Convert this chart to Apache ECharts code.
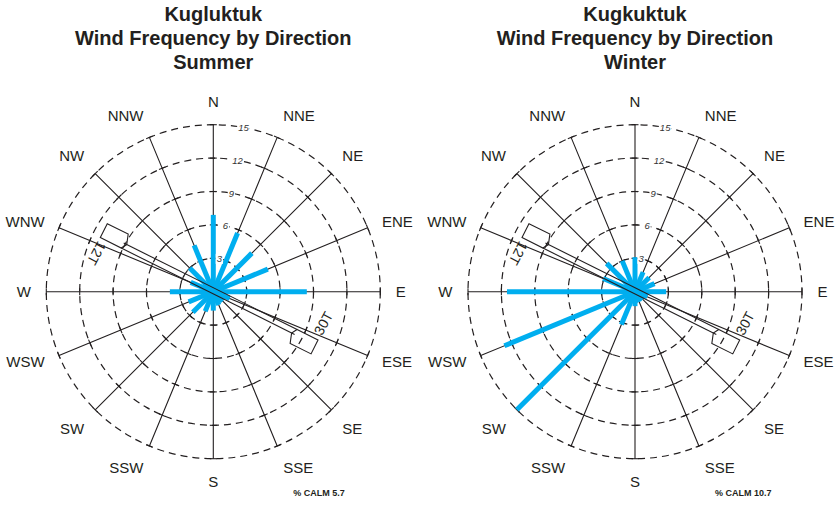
<!DOCTYPE html>
<html><head><meta charset="utf-8">
<script src="https://cdn.jsdelivr.net/npm/echarts@6/dist/echarts.min.js"></script>
<style>html,body{margin:0;padding:0;background:#fff}#c{width:835px;height:506px}</style>
</head><body><div id="c"></div>
<script>
// ---- data ----
const directions = ['N','NNE','NE','ENE','E','ESE','SE','SSE','S','SSW','SW','WSW','W','WNW','NW','NNW'];
const summerValues = [6.9, 5.7, 4.9, 5.3, 8.4, 1.6, 1.2, 1.3, 1.7, 1.9, 2.6, 2.4, 3.9, 2.2, 3.0, 4.5];
const winterValues = [3.1, 1.9, 1.8, 1.9, 2.8, 1.2, 1.0, 1.0, 1.3, 3.2, 15.0, 12.7, 11.5, 3.1, 3.6, 3.0];
const ringTicks = [3, 6, 9, 12, 15];
const titleLines = [
  ['Kugluktuk', 'Wind Frequency by Direction', 'Summer'],
  ['Kugkuktuk', 'Wind Frequency by Direction', 'Winter']
];
const calmLabels = ['% CALM 5.7', '% CALM 10.7'];
const runwayLabels = ['12T', '30T'];

// ---- styling ----
const BLUE = '#00aeef';
const INK = '#231f20';
const FONT = '"Liberation Sans", Arial, Helvetica, sans-serif';
const centers = [[213.3, 291.7], [635, 291.7]];
const R = 167;

const chart = echarts.init(document.getElementById('c'), null, {renderer: 'svg'});

function toRad(a){ return a * Math.PI / 180; }

function barItem(params, api){
  const v = api.value(0), a = api.value(1);
  const p0 = api.coord([0, a]), p1 = api.coord([v, a]);
  return {type: 'line', shape: {x1: p0[0], y1: p0[1], x2: p1[0], y2: p1[1]},
    style: {stroke: BLUE, lineWidth: 5, lineCap: 'butt'}};
}

function tickItem(params, api){
  const r = api.value(0), a = api.value(1);
  const p = api.coord([r, a]);
  const t = toRad(a);
  const px = Math.cos(t), py = Math.sin(t), h = 3.5;
  return {type: 'line', shape: {x1: p[0] - px*h, y1: p[1] - py*h, x2: p[0] + px*h, y2: p[1] + py*h},
    style: {stroke: INK, lineWidth: 1.1}};
}

function dirLabelItem(params, api){
  const a = api.value(1);
  const name = directions[params.dataIndex];
  const c = api.coord([0, 0]);
  const p = api.coord([15, a]);
  const dx = p[0] - c[0], dy = p[1] - c[1];
  const L = Math.hypot(dx, dy);
  const ux = dx / L, uy = dy / L;
  const rr = L + 15.5;
  const align = Math.abs(ux) < 0.3 ? 'center' : (ux > 0 ? 'left' : 'right');
  const valign = Math.abs(uy) < 0.4 ? 'middle' : (uy > 0 ? 'top' : 'bottom');
  return {type: 'text', x: c[0] + ux * rr, y: c[1] + uy * rr,
    style: {text: name, font: '15px ' + FONT, fill: INK, align: align, verticalAlign: valign}};
}

function ringLabelItem(params, api){
  const r = api.value(0), a = api.value(1);
  const p = api.coord([r, a]);
  return {type: 'text', x: p[0], y: p[1],
    style: {text: String(r), font: 'italic 9.5px ' + FONT, fill: '#333', align: 'center', verticalAlign: 'middle',
      backgroundColor: '#fff', padding: [0, 1]}};
}

// runway geometry in data units (decoration)
function runwayItem(params, api){
  const ang = toRad(116.5);
  const d = [Math.sin(ang), Math.cos(ang)];          // along runway toward SE (east, north)
  const n = [Math.cos(ang) , -Math.sin(ang)];         // perpendicular (toward SW on screen)
  const u0 = -0.45, v0 = -0.07;
  const Le = 10.8, Lt = 8.7, hw = 0.25, bw = 1.15;
  function P(u, v){
    const e = (u0 + u) * d[0] + (v0 + v) * n[0];
    const no = (u0 + u) * d[1] + (v0 + v) * n[1];
    const r = Math.hypot(e, no);
    let b = Math.atan2(e, no) * 180 / Math.PI; if (b < 0) b += 360;
    return api.coord([r, b]);
  }
  const st = {stroke: INK, lineWidth: 1.1, fill: null};
  const children = [
    {type: 'polyline', shape: {points: [P(-Lt, -hw), P(Lt, -hw)]}, style: st},
    {type: 'polyline', shape: {points: [P(-Lt, hw), P(Lt, hw)]}, style: st},
    {type: 'polygon', shape: {points: [P(-Le, -bw), P(-Lt, -bw), P(-Lt + 0.3, -hw), P(-Lt, hw), P(-Le, hw)]}, style: st},
    {type: 'polygon', shape: {points: [P(Lt, -hw), P(Le, -hw), P(Le, bw), P(Lt, bw), P(Lt - 0.3, hw)]}, style: st}
  ];
  const lab = [[11.03, 288.2, 242], [10.28, 106, 62]];
  lab.forEach((L, i) => {
    const p = api.coord([L[0], L[1]]);
    children.push({type: 'text', x: p[0], y: p[1], rotation: toRad(L[2]),
      style: {text: runwayLabels[i], font: '14px ' + FONT, fill: INK, align: 'center', verticalAlign: 'middle'}});
  });
  return {type: 'group', children};
}

const polar = centers.map(c => ({center: c, radius: R}));
const angleAxis = centers.map((c, i) => ({
  polarIndex: i, type: 'value', min: 0, max: 360, interval: 22.5, startAngle: 90, clockwise: true,
  axisLine: {show: false}, axisTick: {show: false}, axisLabel: {show: false},
  splitLine: {show: true, lineStyle: {color: INK, width: 1.1}}
}));
const radiusAxis = centers.map((c, i) => ({
  polarIndex: i, type: 'value', min: 0, max: 15, interval: 3,
  axisLine: {show: false}, axisTick: {show: false}, axisLabel: {show: false},
  splitLine: {show: true, lineStyle: {color: INK, width: 1.2, type: [7, 5]}}
}));

const series = [];
[summerValues, winterValues].forEach((vals, i) => {
  const tickData = [];
  directions.forEach((d, k) => ringTicks.forEach(r => tickData.push([r, k * 22.5])));
  series.push({type: 'custom', coordinateSystem: 'polar', polarIndex: i, z: 1, silent: true,
    renderItem: tickItem, data: tickData});
  series.push({type: 'custom', coordinateSystem: 'polar', polarIndex: i, z: 2, silent: true,
    renderItem: barItem, data: vals.map((v, k) => [v, k * 22.5])});
  series.push({type: 'custom', coordinateSystem: 'polar', polarIndex: i, z: 3, silent: true,
    renderItem: runwayItem, data: [[0, 0]]});
  series.push({type: 'custom', coordinateSystem: 'polar', polarIndex: i, z: 4, silent: true,
    renderItem: ringLabelItem, data: ringTicks.map(r => [r, 10.4])});
  series.push({type: 'custom', coordinateSystem: 'polar', polarIndex: i, z: 4, silent: true,
    renderItem: dirLabelItem, data: directions.map((d, k) => [15, k * 22.5])});
});

const option = {
  animation: false,
  backgroundColor: '#fff',
  title: titleLines.map((lines, i) => ({
    text: lines.join('\n'), left: centers[i][0], top: 2, textAlign: 'center', padding: 0,
    textStyle: {fontFamily: FONT, fontSize: 20, fontWeight: 'bold', color: INK, lineHeight: 24}
  })),
  polar, angleAxis, radiusAxis, series,
  graphic: calmLabels.map((t, i) => ({
    type: 'text', left: centers[i][0] + 80, top: 488,
    style: {text: t, font: 'bold 9px ' + FONT, fill: INK}
  }))
};
chart.setOption(option);
</script></body></html>
